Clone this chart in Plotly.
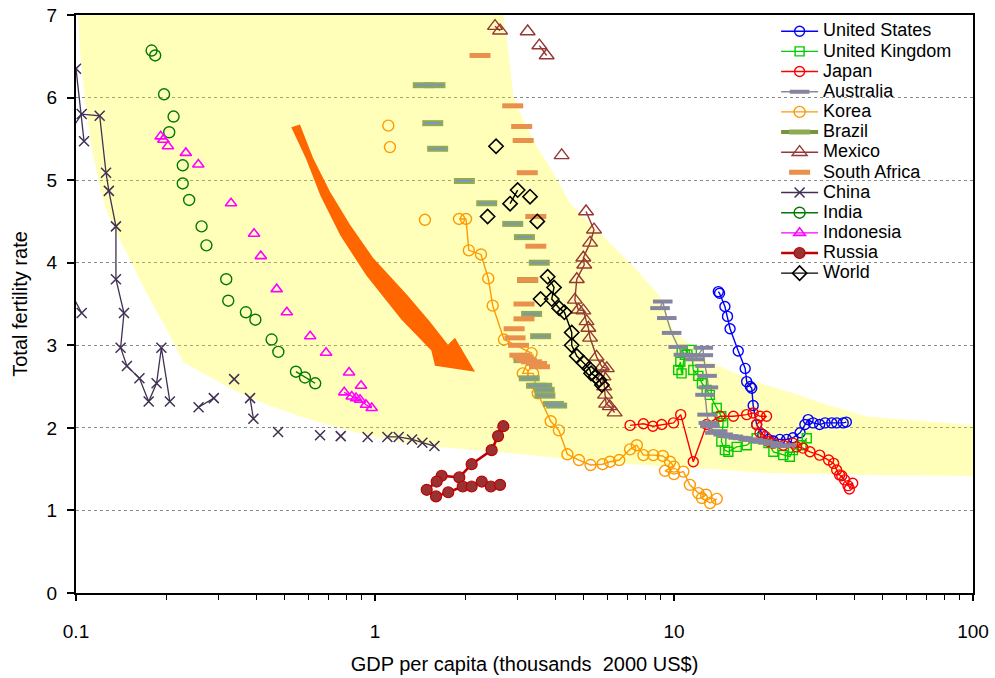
import plotly.graph_objects as go

# ---------------- data (GDP per capita, thousands 2000 US$ ; total fertility rate) ----------------
US_GDP = [14.07, 14.2, 14.8, 15.1, 15.4, 16.4, 17.3, 17.5, 18.0, 18.2, 18.4, 18.9, 19.8, 20.7, 21.5, 22.6,
          23.8, 25.0, 26.4, 27.4, 28.1, 29.2, 30.7, 32.0, 33.7, 35.0, 36.8, 37.7]
US_TFR = [3.65, 3.63, 3.47, 3.35, 3.20, 2.93, 2.72, 2.56, 2.50, 2.48, 2.27, 2.04, 1.92, 1.86, 1.84, 1.86,
          1.86, 1.88, 1.94, 2.04, 2.10, 2.06, 2.04, 2.06, 2.06, 2.06, 2.06, 2.07]

UK_GDP = [10.33, 10.5, 10.6, 10.87, 10.61, 11.47, 11.6, 12.06, 12.4, 12.86, 13.18, 13.9, 14.4, 14.6, 14.4,
          14.8, 15.2, 16.2, 17.5, 18.9, 20.7, 21.5, 23.2, 24.4, 25.0, 26.7, 27.8]
UK_TFR = [2.70, 2.80, 2.66, 2.885, 2.945, 2.945, 2.70, 2.63, 2.54, 2.46, 2.40, 2.24, 2.14, 2.06, 1.835,
          1.73, 1.71, 1.77, 1.79, 1.875, 1.815, 1.71, 1.67, 1.65, 1.73, 1.79, 1.875]

JP_GDP = [7.13, 7.9, 8.5, 9.1, 9.96, 10.53, 11.6, 12.86, 14.25, 15.8, 17.5, 18.4, 19.4, 20.4, 18.9, 19.4,
          20.2, 20.7, 21.5, 23.2, 25.0, 25.7, 27.0, 28.5, 30.7, 32.9, 34.2, 35.0, 35.8, 37.2, 36.4, 38.2,
          39.6, 38.6]
JP_TFR = [2.03, 2.05, 2.02, 2.04, 2.06, 2.16, 1.59, 2.04, 2.14, 2.14, 2.16, 2.18, 2.14, 2.14, 2.04, 1.94,
          1.895, 1.835, 1.815, 1.79, 1.815, 1.77, 1.755, 1.71, 1.67, 1.61, 1.57, 1.49, 1.43, 1.37, 1.42,
          1.30, 1.33, 1.26]

AU_GDP = [8.98, 9.17, 9.46, 9.82, 10.33, 10.75, 11.16, 11.75, 12.53, 12.53, 12.7, 12.9, 13.03, 12.7, 12.9,
          13.03, 13.18, 13.7, 14.0, 14.6, 15.2, 15.8, 16.4, 17.0, 17.7, 18.4, 19.1, 19.8, 20.6, 21.5,
          22.6, 23.8]
AU_TFR = [3.45, 3.53, 3.33, 3.15, 2.98, 2.885, 2.88, 2.83, 2.97, 2.88, 2.75, 2.63, 2.49, 2.40, 2.16, 2.06,
          2.02, 1.94, 1.96, 1.92, 1.90, 1.895, 1.88, 1.875, 1.86, 1.855, 1.84, 1.835, 1.82, 1.81, 1.78,
          1.79]

KR_GDP = [1.108, None, 1.122, None, 1.469, None, 1.91, 2.015, 2.06, 2.262, 2.393, 2.476, 2.70, 3.34, 3.12,
          3.38, 3.5, 3.87, 4.12, 4.40, 4.81, 5.26, 5.77, 6.11, 6.56, 7.13, 7.51, 7.9, 8.53, 9.18, 9.7,
          10.0, 9.33, 10.0, 10.75, 11.3, 12.06, 12.8, 12.4, 13.2, 13.9]
KR_TFR = [5.66, None, 5.40, None, 4.52, None, 4.53, 4.53, 4.15, 4.10, 3.81, 3.48, 3.07, 2.905, 2.66,
          2.66, 2.42, 2.08, 1.97, 1.68, 1.61, 1.55, 1.56, 1.59, 1.61, 1.74, 1.79, 1.67, 1.67, 1.66, 1.59,
          1.53, 1.48, 1.44, 1.47, 1.31, 1.21, 1.19, 1.15, 1.09, 1.14]

BR_GDP = [1.45, 1.587, 1.56, 1.62, 1.99, 2.364, 2.888, 3.16, 3.544, 3.24, 3.34, 3.58, 3.15, 3.28, 3.47,
          3.61, 3.68, 3.70, 3.95, 4.05]
BR_TFR = [6.15, 6.15, 5.69, 5.38, 4.99, 4.72, 4.47, 4.31, 4.00, 3.79, 3.38, 3.11, 2.82, 2.60, 2.51,
          2.51, 2.46, 2.39, 2.29, 2.27]

MX_GDP = [2.52, 2.62, None, 3.24, None, 3.545, 3.75, None, 4.21, None, 5.08, 5.40, 5.24, 4.975, 5.01,
          4.73, 4.66, 4.79, 4.975, 5.1, 5.17, 5.24, 5.51, 5.74, 5.96, 5.81, 5.84, 5.88, 5.93, 6.1, 6.33]
MX_TFR = [6.865, 6.81, None, 6.80, None, 6.63, 6.51, None, 5.30, None, 4.62, 4.40, 4.24, 4.06, 3.975,
          3.80, 3.55, 3.43, 3.42, 3.29, 3.21, 3.09, 2.86, 2.74, 2.72, 2.62, 2.50, 2.40, 2.29, 2.26, 2.185]

ZA_GDP = [2.245, 2.888, 3.094, 3.13, 3.23, 3.45, 3.45, 3.24, 3.15, 3.15, 2.92, 2.94, 3.02, 3.05, 3.13,
          3.21, 3.34, 3.47, 3.55]
ZA_TFR = [6.51, 5.90, 5.65, 5.48, 5.09, 4.56, 4.20, 3.79, 3.50, 3.32, 3.20, 3.09, 3.00, 2.88, 2.86,
          2.82, 2.80, 2.78, 2.74]

CN_GDP = [0.1045, 0.088, None, 0.1, 0.1064, None, 0.092, 0.1045, 0.120, 0.126, 0.1288, 0.136, 0.136,
          0.1447, 0.141, 0.148, 0.163, 0.175, 0.186, 0.193, 0.206, None, 0.257, 0.289, None, 0.338,
          None, 0.382, 0.392, None, 0.474, None, 0.655, None, 0.768, None, 0.945, None, 1.10, 1.20,
          1.33, 1.44, 1.58]
CN_TFR = [3.39, 3.9, None, 6.35, 5.47, None, 5.5, 5.80, 5.78, 5.09, 4.87, 4.44, 3.80, 3.39, 2.97, 2.75,
          2.60, 2.32, 2.54, 2.97, 2.32, None, 2.25, 2.36, None, 2.59, None, 2.36, 2.11, None, 1.95,
          None, 1.91, None, 1.90, None, 1.89, None, 1.89, 1.89, 1.86, 1.82, 1.78]

IN_GDP = [0.179, None, 0.184, None, 0.197, None, 0.212, None, 0.205, None, 0.2275, None, 0.2275, None,
          0.239, None, 0.263, None, 0.273, None, 0.318, None, 0.323, None, 0.37, None, 0.398, None,
          0.451, None, 0.475, None, 0.544, 0.583, 0.631]
IN_TFR = [6.57, None, 6.51, None, 6.04, None, 5.77, None, 5.58, None, 5.18, None, 4.96, None, 4.76,
          None, 4.44, None, 4.21, None, 3.80, None, 3.54, None, 3.40, None, 3.31, None, 3.07, None,
          2.92, None, 2.68, 2.61, 2.54]

ID_GDP = [0.192, None, 0.196, None, 0.203, None, 0.233, None, 0.2565, None, 0.33, None, 0.394, None,
          0.415, None, 0.469, None, 0.507, None, 0.607, None, 0.686, None, 0.819, None, 0.898, None,
          0.789, 0.836, 0.864, 0.891, 0.933, 0.975]
ID_TFR = [5.53, None, 5.49, None, 5.41, None, 5.33, None, 5.19, None, 4.72, None, 4.35, None, 4.08,
          None, 3.68, None, 3.40, None, 3.11, None, 2.91, None, 2.67, None, 2.51, None, 2.43, 2.38,
          2.36, 2.34, 2.28, 2.24]

RU_GDP = [2.686, 2.58, 2.455, 2.105, 1.914, 1.671, 1.608, 1.489, 1.60, 1.758, 1.965, 2.105, 2.276, 2.44,
          2.62]
RU_TFR = [2.02, 1.90, 1.73, 1.56, 1.40, 1.42, 1.35, 1.25, 1.17, 1.22, 1.29, 1.29, 1.35, 1.29, 1.31]

WD_GDP = [2.38, None, 2.54, None, 2.83, 3.0, None, 3.30, None, 3.49, None, 3.58, None, 3.78, 3.97, 3.90,
          4.13, 4.30, 4.55, 4.55, 4.73, 4.98, 5.21, 5.28, 5.48, 5.63, 5.74]
WD_TFR = [4.56, None, 5.41, None, 4.715, 4.88, None, 4.80, None, 4.50, None, 3.56, None, 3.83, 3.70,
          3.56, 3.45, 3.40, 3.155, 3.00, 2.87, 2.79, 2.72, 2.66, 2.62, 2.58, 2.52]

# transition band (outline of the shaded region)
BAND_GDP = [0.1016, 0.1031, 0.1072, 0.1129, 0.1203, 0.125, 0.1333, 0.1478, 0.1724, 0.201, 0.228,
            0.260, 0.3357, 0.434, 0.561, 0.725, 0.938, 1.212, 1.567, 2.245, 3.752, 6.27, 10.47, 19.4,
            41.9, 100, 100, 44.1, 32.4, 25.06, 17.95, 12.9, 9.92, 8.98, 7.5, 5.80, 4.49, 3.95, 3.474,
            3.133, 2.901, 2.792, 2.686, 0.1016]
BAND_TFR = [7.0, 6.58, 5.98, 5.37, 4.92, 4.68, 4.44, 4.12, 3.63, 3.19, 2.80,
            2.68, 2.46, 2.28, 2.14, 2.02, 1.915, 1.834, 1.773, 1.727, 1.652, 1.572, 1.527, 1.458,
            1.43, 1.418, 2.036, 2.137, 2.279, 2.42, 2.58, 2.82, 3.19, 3.59, 3.915, 4.32, 4.72, 5.09,
            5.41, 5.73, 6.02, 6.58, 7.0, 7.0]

X_TICK_VALS = [0.1, 1, 10, 100]
X_TICK_TEXT = ["0.1", "1", "10", "100"]
Y_TICK_VALS = [0, 1, 2, 3, 4, 5, 6, 7]

FONT = "Liberation Sans, Arial, sans-serif"


def lab(s):
    return '<span style="font-size:18px">' + s + '</span>'


def gaps(vals):
    out = []
    for v in vals:
        out += [v, None]
    return out[:-1]


fig = go.Figure()

fig.add_trace(go.Scatter(x=BAND_GDP, y=BAND_TFR, mode="lines", fill="toself",
                         fillcolor="rgba(255,255,0,0.27)", line=dict(width=0),
                         hoverinfo="skip", showlegend=False))


def series(name, x, y, color, symbol, size, lw=1.4, mlw=1.4, mcolor=None, mode="lines+markers"):
    fig.add_trace(go.Scatter(
        x=x, y=y, name=lab(name), mode=mode,
        line=dict(color=color, width=lw),
        marker=dict(symbol=symbol, size=size, color=mcolor or color,
                    line=dict(color=color, width=mlw)),
    ))


series("United States", US_GDP, US_TFR, "#0000FF", "circle-open", 10)
series("United Kingdom", UK_GDP, UK_TFR, "#00CC00", "square-open", 9)
series("Japan", JP_GDP, JP_TFR, "#FF0000", "circle-open", 10)
fig.add_trace(go.Scatter(x=AU_GDP, y=AU_TFR, name=lab("Australia"), mode="lines+markers",
                         line=dict(color="#8C8C8C", width=1.4),
                         marker=dict(symbol="line-ew", size=14, color="#85859F",
                                     line=dict(color="#85859F", width=4))))
series("Korea", KR_GDP, KR_TFR, "#FF9900", "circle-open", 11)
fig.add_trace(go.Scatter(x=gaps(BR_GDP), y=gaps(BR_TFR), name=lab("Brazil"), mode="lines+markers",
                         legendgroup="br",
                         line=dict(color="#77933C", width=4),
                         marker=dict(symbol="line-ew", size=15, color="#77933C",
                                     line=dict(color="#8FAA55", width=6))))
fig.add_trace(go.Scatter(x=BR_GDP, y=BR_TFR, mode="markers", legendgroup="br", showlegend=False,
                         hoverinfo="skip",
                         marker=dict(symbol="line-ew", size=12, color="#7F96B2",
                                     line=dict(color="#7F96B2", width=2))))
series("Mexico", MX_GDP, MX_TFR, "#953735", "triangle-up-open", 13)
fig.add_trace(go.Scatter(x=ZA_GDP, y=ZA_TFR, name=lab("South Africa"), mode="markers",
                         marker=dict(symbol="line-ew", size=15, color="#E8904C",
                                     line=dict(color="#E8904C", width=5))))
series("China", CN_GDP, CN_TFR, "#403152", "x-thin", 10, lw=1.3, mlw=1.5)
series("India", IN_GDP, IN_TFR, "#007A00", "circle-open", 11)
series("Indonesia", ID_GDP, ID_TFR, "#FF00FF", "triangle-up-open", 10, mlw=1.6)
series("Russia", RU_GDP, RU_TFR, "#C00000", "circle", 11, lw=2.6, mlw=1.2, mcolor="#993333")
series("World", WD_GDP, WD_TFR, "#000000", "diamond-open", 11, mlw=1.6)

# decorative arrow (paper coordinates)
ARROW = [(0.2400, 0.8060), (0.2497, 0.8104), (0.2642, 0.7532), (0.2832, 0.6944), (0.3055, 0.6372),
         (0.3311, 0.5801), (0.3690, 0.5160), (0.3946, 0.4693), (0.4147, 0.4294), (0.4225, 0.4416),
         (0.4448, 0.3827), (0.4002, 0.3931), (0.3961, 0.4194), (0.3627, 0.4731), (0.3237, 0.5493),
         (0.2947, 0.6185), (0.2724, 0.6878), (0.2568, 0.7501)]
path = "M " + " L ".join(f"{a},{b}" for a, b in ARROW) + " Z"
fig.add_shape(type="path", path=path, xref="paper", yref="paper",
              fillcolor="#FF6600", line=dict(width=0), layer="above")

fig.update_layout(
    width=995, height=678,
    margin=dict(l=76, r=22, t=15, b=85),
    paper_bgcolor="white", plot_bgcolor="white",
    font=dict(family=FONT, color="black", size=19),
    showlegend=True,
    legend=dict(x=0.7805, y=0.998, xanchor="left", yanchor="top",
                bgcolor="rgba(0,0,0,0)", borderwidth=0,
                font=dict(family=FONT, size=13.2, color="black"),
                itemwidth=37, tracegroupgap=0),
    xaxis=dict(type="log", range=[-1, 2], tickvals=X_TICK_VALS, ticktext=X_TICK_TEXT,
               ticks="outside", ticklen=6, tickwidth=1.5, tickcolor="black",
               showline=True, linecolor="black", linewidth=2, mirror=True,
               showgrid=False, zeroline=False, automargin=False,
               ticklabelstandoff=14,
               minor=dict(ticks="outside", ticklen=5, tickwidth=1.2, tickcolor="black",
                          dtick="D1", showgrid=False),
               tickfont=dict(size=19),
               title=dict(text="GDP per capita (thousands  2000 US$)", font=dict(size=20),
                          standoff=16)),
    yaxis=dict(range=[0, 7], tickvals=Y_TICK_VALS, ticks="outside", ticklen=7, tickwidth=1.5,
               tickcolor="black", showline=True, linecolor="black", linewidth=2, mirror=True,
               showgrid=True, gridcolor="#8A8A8A", griddash="dot", gridwidth=1, zeroline=False,
               automargin=False, ticklabelstandoff=6,
               tickfont=dict(size=19),
               title=dict(text="Total fertility rate", font=dict(size=20), standoff=14)),
)

fig.write_html("out.html")
